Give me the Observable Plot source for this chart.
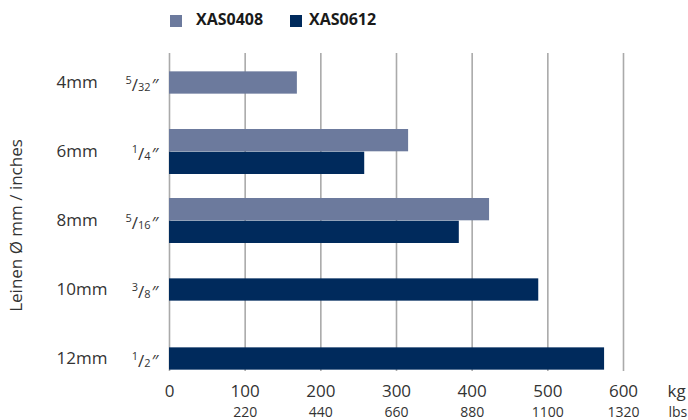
<!DOCTYPE html>
<html>
<head>
<meta charset="utf-8">
<script src="https://cdn.jsdelivr.net/npm/d3@7"></script>
<script src="https://cdn.jsdelivr.net/npm/@observablehq/plot@0.6"></script>
<style>
  body { margin: 0; background: #fff; font-family: "Open Sans", sans-serif; }
  #wrap { width: 688px; }
  #legend { position: relative; height: 40px; font-family: "Open Sans", sans-serif; font-weight: 700; font-size: 16px; color: #1a1a1a; }
  .sw { position: absolute; top: 15px; width: 12px; height: 12px; }
  .lab { position: absolute; top: 5px; line-height: 28px; }
</style>
</head>
<body>
<div id="wrap">
  <div id="legend"></div>
  <div id="chart"></div>
</div>
<script>
const categories = ["4mm", "6mm", "8mm", "10mm", "12mm"];
const inches = ["5/32", "1/4", "5/16", "3/8", "1/2"];
const series = ["XAS0408", "XAS0612"];
const xas0408 = [169, 316, 423, null, null];
const xas0612 = [null, 258, 383, 488, 575];
const seriesColors = ["#6c7a9d", "#002a5c"];
const kgTicks = [0, 100, 200, 300, 400, 500, 600];
const lbsTicks = [100, 200, 300, 400, 500, 600];
const lbsLabels = ["220", "440", "660", "880", "1100", "1320"];
const axisTitle = "Leinen Ø mm / inches";

// legend
const legend = document.getElementById("legend");
const legendX = [[170, 196], [290, 309]];
series.forEach((s, i) => {
  const sw = document.createElement("div");
  sw.className = "sw"; sw.style.left = legendX[i][0] + "px"; sw.style.background = seriesColors[i];
  const lb = document.createElement("div");
  lb.className = "lab"; lb.style.left = legendX[i][1] + "px"; lb.textContent = s;
  legend.appendChild(sw); legend.appendChild(lb);
});

// rows
const rows = [];
categories.forEach((c, i) => {
  const vals = [xas0408[i], xas0612[i]];
  const n = vals.filter(v => v != null).length;
  vals.forEach((v, j) => {
    if (v != null) rows.push({category: c, series: series[j], value: v, single: n === 1});
  });
});

const bw = 69 * (1 - 0.342);
const half = bw / 2;
const quarter = bw / 4;

const labelRows = categories.map((c, i) => ({category: c, inch: inches[i]}));

const chart = Plot.plot({
  width: 688,
  height: 380,
  marginLeft: 169,
  marginRight: 65,
  marginTop: 13,
  marginBottom: 49,
  style: {fontFamily: "Open Sans", background: "white", color: "#333"},
  x: {domain: [0, 600], axis: null},
  y: {domain: categories, range: [8.5, 353.5], paddingInner: 0.342, paddingOuter: 0.171, axis: null},
  color: {domain: series, range: seriesColors},
  marks: [
    Plot.ruleX(kgTicks, {x: d => d, stroke: "#aaaaaa", strokeWidth: 1.6}),
    Plot.barX(rows.filter(d => !d.single && d.series === series[0]), {x: "value", y: "category", fill: "series", insetBottom: half, insetTop: 0}),
    Plot.barX(rows.filter(d => !d.single && d.series === series[1]), {x: "value", y: "category", fill: "series", insetTop: half, insetBottom: 0}),
    Plot.barX(rows.filter(d => d.single), {x: "value", y: "category", fill: "series", insetTop: quarter, insetBottom: quarter}),
    // category labels
    Plot.text(labelRows, {y: "category", text: "category", frameAnchor: "left", dx: -113, textAnchor: "start", fontSize: 17, fill: "#333"}),
    Plot.text(labelRows, {y: "category", text: d => d.inch + "″", frameAnchor: "left", dx: -11, textAnchor: "end", fontSize: 17, fill: "#333", className: "frac"}),
    // y title
    Plot.text([axisTitle], {text: d => d, frameAnchor: "left", textAnchor: "middle", rotate: -90, dx: -153, dy: 13, fontSize: 17, fill: "#333"}),
    // x tick labels
    Plot.text(kgTicks, {x: d => d, text: d => String(d), frameAnchor: "bottom", lineAnchor: "top", dy: 13, fontSize: 17, fill: "#333"}),
    Plot.text(lbsTicks, {x: d => d, text: (d, i) => lbsLabels[i], frameAnchor: "bottom", lineAnchor: "top", dy: 36, fontSize: 14, fill: "#333"}),
    Plot.text(["kg"], {text: d => d, frameAnchor: "bottom-right", lineAnchor: "top", textAnchor: "start", dx: 44, dy: 13, fontSize: 17, fill: "#333"}),
    Plot.text(["lbs"], {text: d => d, frameAnchor: "bottom-right", lineAnchor: "top", textAnchor: "start", dx: 45, dy: 36, fontSize: 14, fill: "#333"})
  ]
});

document.getElementById("chart").appendChild(chart);

// format fractions with superscript numerator and small denominator
d3.select(chart).selectAll("g.frac text").each(function() {
  const t = this.textContent;
  const m = t.match(/^(\d+)\/(\d+)(.*)$/);
  if (!m) return;
  const sel = d3.select(this);
  sel.text(null);
  sel.append("tspan").attr("font-size", 11).attr("dy", "-0.4em").text(m[1]);
  sel.append("tspan").attr("dy", "0.4em").text("/");
  sel.append("tspan").attr("font-size", 11).text(m[2]);
  sel.append("tspan").attr("dx", 1).text(m[3]);
});
</script>
</body>
</html>
